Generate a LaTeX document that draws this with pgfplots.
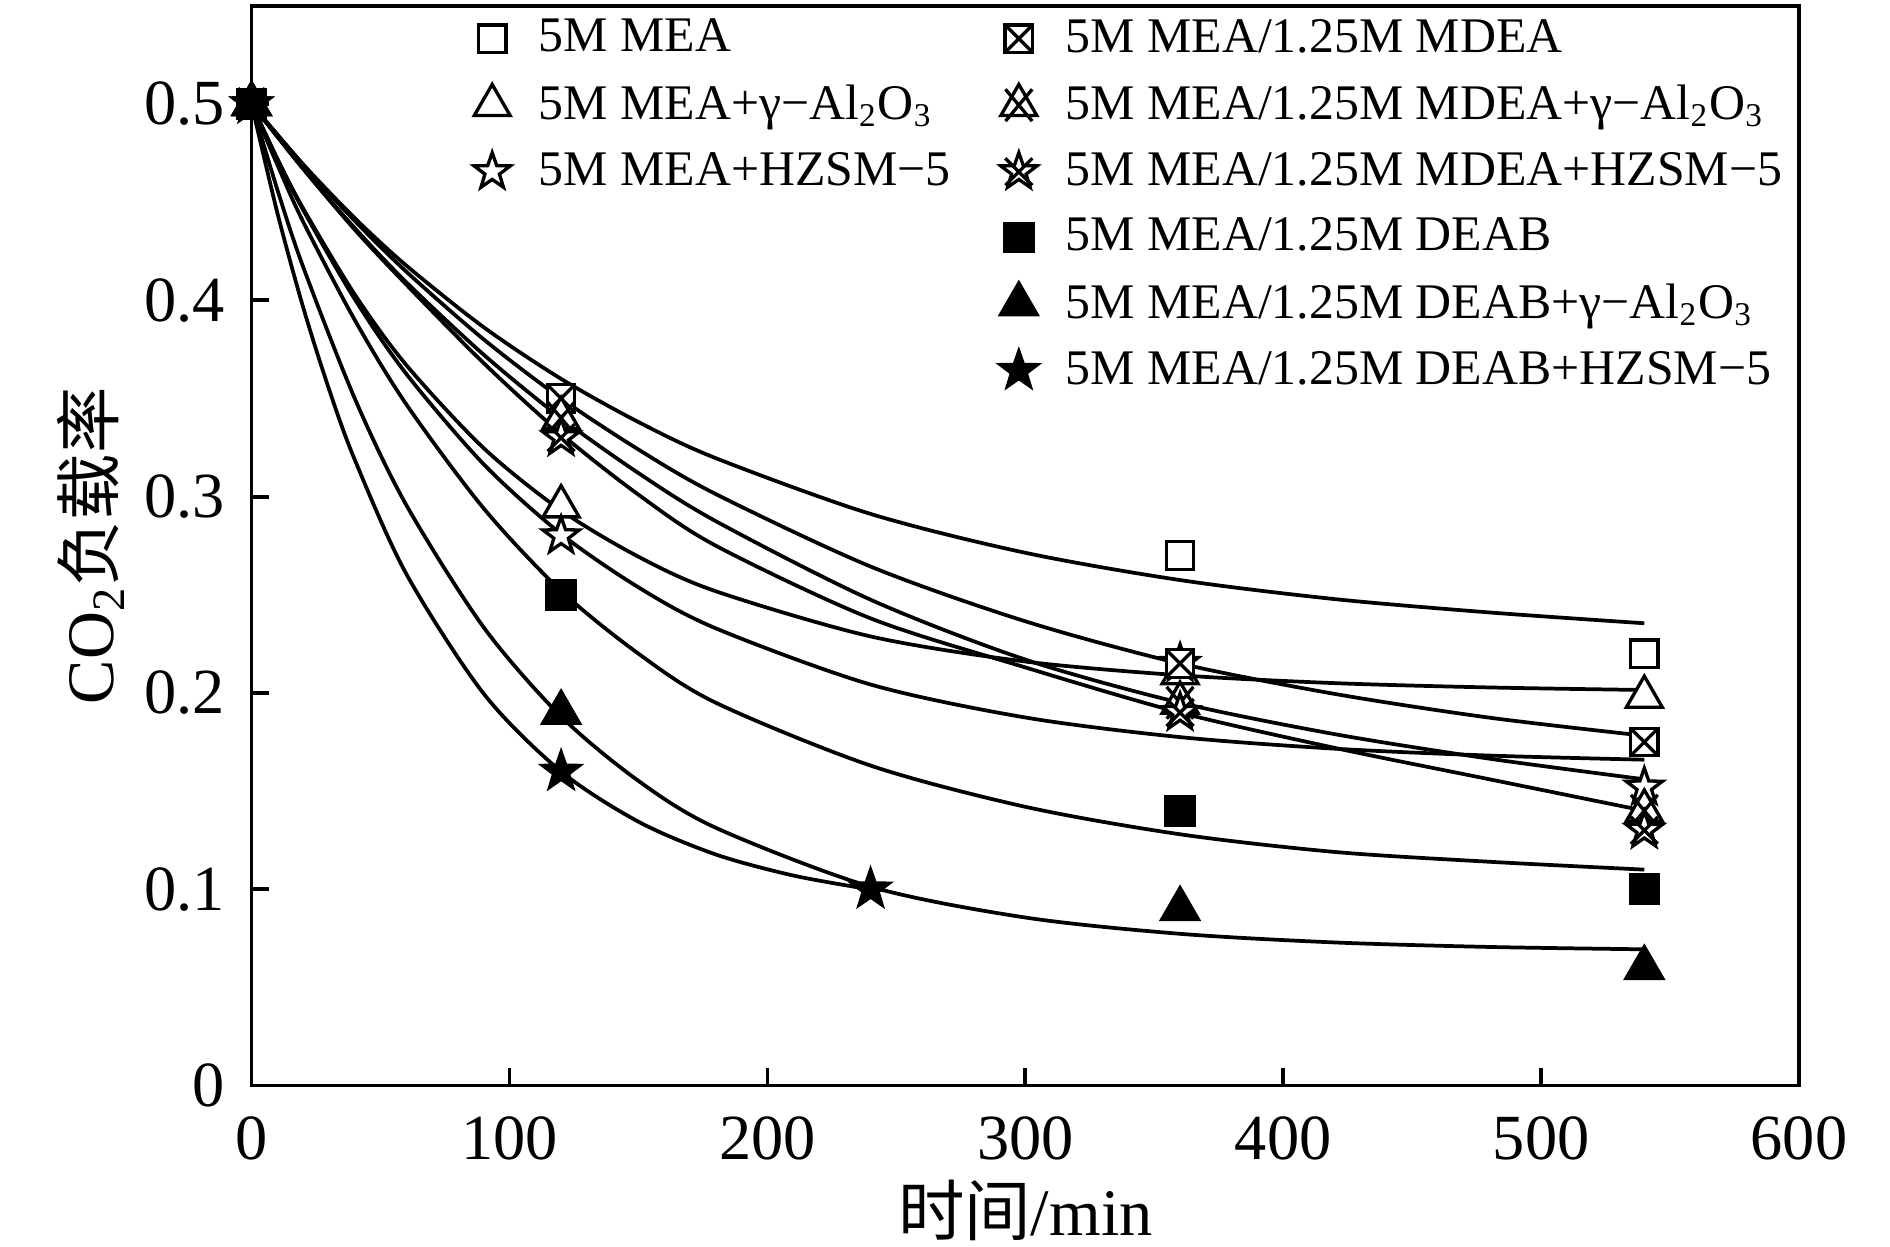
\documentclass[border=0pt]{standalone}
\usepackage{fontspec}
\setmainfont{Liberation Serif}
\newfontfamily\cjk{Noto Sans CJK SC}
\usepackage{pgfplots}
\pgfplotsset{compat=1.18}

\def\mystarpath{%
 \pgfpathmoveto{\pgfpointpolar{90}{\pgfplotmarksize}}%
 \pgfpathlineto{\pgfpointpolar{126}{0.4\pgfplotmarksize}}%
 \pgfpathlineto{\pgfpointpolar{162}{\pgfplotmarksize}}%
 \pgfpathlineto{\pgfpointpolar{198}{0.4\pgfplotmarksize}}%
 \pgfpathlineto{\pgfpointpolar{234}{\pgfplotmarksize}}%
 \pgfpathlineto{\pgfpointpolar{270}{0.4\pgfplotmarksize}}%
 \pgfpathlineto{\pgfpointpolar{306}{\pgfplotmarksize}}%
 \pgfpathlineto{\pgfpointpolar{342}{0.4\pgfplotmarksize}}%
 \pgfpathlineto{\pgfpointpolar{18}{\pgfplotmarksize}}%
 \pgfpathlineto{\pgfpointpolar{54}{0.4\pgfplotmarksize}}%
 \pgfpathclose}
\def\myxpath{%
 \pgfpathmoveto{\pgfpointpolar{45}{\pgfplotmarksize}}%
 \pgfpathlineto{\pgfpointpolar{225}{\pgfplotmarksize}}%
 \pgfpathmoveto{\pgfpointpolar{135}{\pgfplotmarksize}}%
 \pgfpathlineto{\pgfpointpolar{315}{\pgfplotmarksize}}}
\pgfdeclareplotmark{fstar}{\mystarpath\pgfusepathqfillstroke}
\pgfdeclareplotmark{starx}{\mystarpath\pgfusepathqfillstroke\myxpath\pgfusepathqstroke}
\pgfdeclareplotmark{trix}{%
 \pgfpathmoveto{\pgfpointpolar{90}{\pgfplotmarksize}}%
 \pgfpathlineto{\pgfpointpolar{210}{\pgfplotmarksize}}%
 \pgfpathlineto{\pgfpointpolar{330}{\pgfplotmarksize}}%
 \pgfpathclose\pgfusepathqfillstroke
 \pgfpathmoveto{\pgfpointpolar{50}{\pgfplotmarksize}}%
 \pgfpathlineto{\pgfpointpolar{230}{\pgfplotmarksize}}%
 \pgfpathmoveto{\pgfpointpolar{130}{\pgfplotmarksize}}%
 \pgfpathlineto{\pgfpointpolar{310}{\pgfplotmarksize}}%
 \pgfusepathqstroke}
\pgfdeclareplotmark{boxx}{%
 \pgfpathrectangle{\pgfqpoint{-\pgfplotmarksize}{-\pgfplotmarksize}}{\pgfqpoint{2\pgfplotmarksize}{2\pgfplotmarksize}}%
 \pgfusepathqfillstroke
 \pgfpathmoveto{\pgfqpoint{-\pgfplotmarksize}{-\pgfplotmarksize}}%
 \pgfpathlineto{\pgfqpoint{\pgfplotmarksize}{\pgfplotmarksize}}%
 \pgfpathmoveto{\pgfqpoint{-\pgfplotmarksize}{\pgfplotmarksize}}%
 \pgfpathlineto{\pgfqpoint{\pgfplotmarksize}{-\pgfplotmarksize}}%
 \pgfusepathqstroke}

\pgfplotsset{
 fitline/.style={black, line width=0.9pt, smooth, no marks, forget plot},
 mOsq/.style={only marks, mark=square*, mark size=3.3pt, mark options={solid, line width=0.8pt, fill=white, draw=black}},
 mOtri/.style={only marks, mark=triangle*, mark size=5pt, mark options={solid, line width=0.8pt, fill=white, draw=black}},
 mOstar/.style={only marks, mark=fstar, mark size=4.6pt, mark options={solid, line width=0.8pt, fill=white, draw=black}},
 mBoxx/.style={only marks, mark=boxx, mark size=3.3pt, mark options={solid, line width=0.8pt, fill=white, draw=black}},
 mTrix/.style={only marks, mark=trix, mark size=5pt, mark options={solid, line width=0.8pt, fill=white, draw=black}},
 mStarx/.style={only marks, mark=starx, mark size=4.6pt, mark options={solid, line width=0.8pt, fill=white, draw=black}},
 mFsq/.style={only marks, mark=square*, mark size=3.4pt, mark options={solid, line width=0.8pt, fill=black, draw=black}},
 mFtri/.style={only marks, mark=triangle*, mark size=5.1pt, mark options={solid, line width=0.8pt, fill=black, draw=black}},
 mFstar/.style={only marks, mark=fstar, mark size=4.7pt, mark options={solid, line width=0.8pt, fill=black, draw=black}},
}

\begin{document}
\begin{tikzpicture}
\begin{axis}[
 scale only axis, width=13.1cm, height=9.14cm,
 xmin=0, xmax=600, ymin=0, ymax=0.55,
 xtick={0,100,200,300,400,500,600},
 ytick={0,0.1,0.2,0.3,0.4,0.5},
 tick align=inside, tick pos=left,
 major tick length=0.15cm,
 axis line style={line width=0.9pt},
 every tick/.style={black, line width=0.9pt},
 /pgf/number format/assume math mode=true,
 ticklabel style={font=\fontsize{15.5}{18}\selectfont},
 yticklabel style={/pgf/number format/fixed, /pgf/number format/precision=1, xshift=-0.1cm},
 xticklabel style={yshift=-0.14cm},
 xlabel={{\cjk 时间}/min},
 ylabel={CO\textsubscript{2}{\cjk 负载率}},
 label style={font=\fontsize{16}{19}\selectfont},
 xlabel style={at={(axis description cs:0.5,-0.116)}, anchor=center},
 ylabel style={at={(axis description cs:-0.104,0.5)}, anchor=center},
 legend columns=2, legend cell align=left,
 legend style={draw=none, fill=none, at={(0.124,1.004)}, anchor=north west,
   font=\fontsize{12}{14}\selectfont, row sep=2.4pt,
   /tikz/every odd column/.append style={column sep=0.17cm},
   /tikz/every even column/.append style={column sep=0.35cm}},
]
% fitted curves
\addplot[fitline] coordinates {(0,0.5)(20,0.4693)(40,0.4419)(60,0.4177)(90,0.3863)(120,0.360)(150,0.338)(180,0.3196)(240,0.2912)(300,0.2714)(360,0.2575)(420,0.2478)(480,0.241)(540,0.2355)};
\addplot[fitline] coordinates {(0,0.5)(10,0.4721)(20,0.4468)(40,0.403)(60,0.367)(90,0.3247)(120,0.293)(150,0.2694)(180,0.2518)(240,0.2288)(300,0.216)(360,0.209)(420,0.205)(480,0.2028)(540,0.2015)};
\addplot[fitline] coordinates {(0,0.5)(10,0.4718)(20,0.446)(40,0.4006)(60,0.3625)(90,0.3165)(120,0.281)(150,0.2538)(180,0.2329)(240,0.2043)(300,0.1875)(360,0.1775)(420,0.1716)(480,0.1681)(540,0.166)};
\addplot[fitline] coordinates {(0,0.5)(20,0.4689)(40,0.4405)(60,0.4146)(90,0.3801)(120,0.35)(150,0.324)(180,0.3013)(240,0.2644)(300,0.2365)(360,0.215)(420,0.1995)(480,0.1874)(540,0.1782)};
\addplot[fitline] coordinates {(0,0.5)(20,0.467)(40,0.4368)(60,0.4092)(90,0.3723)(120,0.34)(150,0.312)(180,0.2875)(240,0.2475)(300,0.217)(360,0.195)(420,0.179)(480,0.1665)(540,0.156)};
\addplot[fitline] coordinates {(0,0.5)(20,0.467)(40,0.436)(60,0.408)(90,0.368)(120,0.332)(150,0.301)(180,0.275)(240,0.238)(300,0.213)(360,0.19)(420,0.172)(480,0.156)(540,0.14)};
\addplot[fitline] coordinates {(0,0.5)(10,0.469)(20,0.44)(40,0.39)(60,0.347)(90,0.294)(120,0.252)(150,0.22)(180,0.195)(240,0.163)(300,0.142)(360,0.128)(420,0.119)(480,0.114)(540,0.11)};
\addplot[fitline] coordinates {(0,0.5)(10,0.4563)(20,0.417)(40,0.35)(60,0.2957)(90,0.2334)(120,0.188)(150,0.1552)(180,0.1313)(240,0.1013)(300,0.0856)(360,0.0773)(420,0.0729)(480,0.0706)(540,0.0694)};
\addplot[fitline] coordinates {(0,0.5)(10,0.4445)(20,0.3964)(30,0.3548)(40,0.3188)(60,0.2606)(90,0.1996)(120,0.16)(150,0.1344)(180,0.1177)(210,0.107)(240,0.0999)};
% data points
\addplot[mOsq, forget plot] coordinates {(0,0.5)(120,0.35)(360,0.27)(540,0.22)};
\addplot[mOtri, forget plot] coordinates {(0,0.5)(120,0.295)(360,0.21)(540,0.198)};
\addplot[mOstar, forget plot] coordinates {(0,0.5)(120,0.28)(360,0.215)(540,0.152)};
\addplot[mBoxx, forget plot] coordinates {(0,0.5)(120,0.35)(360,0.215)(540,0.175)};
\addplot[mTrix, forget plot] coordinates {(0,0.5)(120,0.34)(360,0.195)(540,0.14)};
\addplot[mStarx, forget plot] coordinates {(0,0.5)(120,0.33)(360,0.19)(540,0.13)};
\addplot[mFsq, forget plot] coordinates {(0,0.5)(120,0.25)(360,0.14)(540,0.1)};
\addplot[mFtri, forget plot] coordinates {(0,0.5)(120,0.19)(360,0.09)(540,0.06)};
\addplot[mFstar, forget plot] coordinates {(0,0.5)(120,0.16)(240,0.1)};
% legend
\addlegendimage{mOsq}\addlegendentry{5M MEA}
\addlegendimage{mBoxx}\addlegendentry{5M MEA/1.25M MDEA}
\addlegendimage{mOtri}\addlegendentry{5M MEA+γ−Al\textsubscript{2}O\textsubscript{3}}
\addlegendimage{mTrix}\addlegendentry{5M MEA/1.25M MDEA+γ−Al\textsubscript{2}O\textsubscript{3}}
\addlegendimage{mOstar}\addlegendentry{5M MEA+HZSM−5}
\addlegendimage{mStarx}\addlegendentry{5M MEA/1.25M MDEA+HZSM−5}
\addlegendimage{empty legend}\addlegendentry{}
\addlegendimage{mFsq}\addlegendentry{5M MEA/1.25M DEAB}
\addlegendimage{empty legend}\addlegendentry{}
\addlegendimage{mFtri}\addlegendentry{5M MEA/1.25M DEAB+γ−Al\textsubscript{2}O\textsubscript{3}}
\addlegendimage{empty legend}\addlegendentry{}
\addlegendimage{mFstar}\addlegendentry{5M MEA/1.25M DEAB+HZSM−5}
\end{axis}
\path (current axis.south west) ++(-2.13cm,-1.36cm) coordinate (bbA);
\path (current axis.north east) ++(0.77cm,0.05cm) coordinate (bbB);
\pgfresetboundingbox
\path[use as bounding box] (bbA) rectangle (bbB);
\end{tikzpicture}
\end{document}
